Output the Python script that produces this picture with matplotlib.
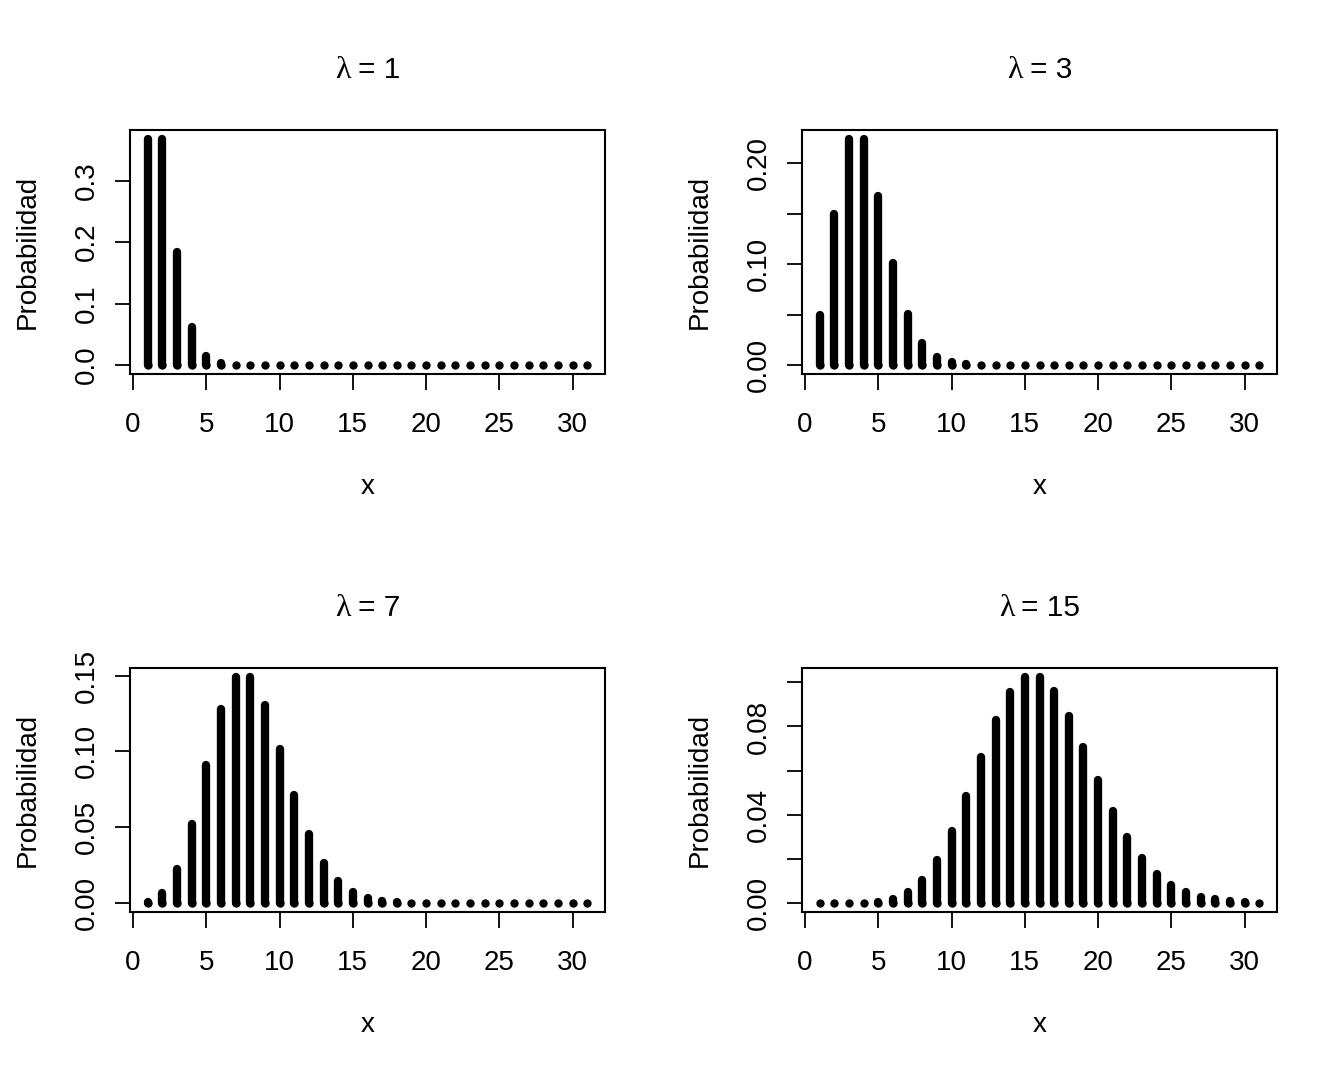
import matplotlib
matplotlib.use("Agg")
import matplotlib.pyplot as plt

plt.rcParams['font.family'] = ['Liberation Sans', 'DejaVu Sans']

# valores x (1..31) y probabilidades
x = list(range(1, 32))

p_l1 = [0.3679, 0.3679, 0.1839, 0.0613, 0.0153, 0.0031, 0.0005, 0.0001, 0.0, 0.0,
        0.0, 0.0, 0.0, 0.0, 0.0, 0.0, 0.0, 0.0, 0.0, 0.0,
        0.0, 0.0, 0.0, 0.0, 0.0, 0.0, 0.0, 0.0, 0.0, 0.0, 0.0]
p_l3 = [0.0498, 0.1494, 0.2240, 0.2240, 0.1680, 0.1008, 0.0504, 0.0216, 0.0081, 0.0027,
        0.0008, 0.0002, 0.0001, 0.0, 0.0, 0.0, 0.0, 0.0, 0.0, 0.0,
        0.0, 0.0, 0.0, 0.0, 0.0, 0.0, 0.0, 0.0, 0.0, 0.0, 0.0]
p_l7 = [0.0009, 0.0064, 0.0223, 0.0521, 0.0912, 0.1277, 0.1490, 0.1490, 0.1304, 0.1014,
        0.0710, 0.0452, 0.0264, 0.0142, 0.0071, 0.0033, 0.0014, 0.0006, 0.0002, 0.0001,
        0.0, 0.0, 0.0, 0.0, 0.0, 0.0, 0.0, 0.0, 0.0, 0.0, 0.0]
p_l15 = [0.0, 0.0, 0.0, 0.0002, 0.0006, 0.0019, 0.0048, 0.0104, 0.0194, 0.0324,
         0.0486, 0.0663, 0.0829, 0.0956, 0.1024, 0.1024, 0.0960, 0.0847, 0.0706, 0.0558,
         0.0418, 0.0299, 0.0204, 0.0133, 0.0083, 0.0050, 0.0029, 0.0016, 0.0009, 0.0004, 0.0002]

lambdas = ["1", "3", "7", "15"]
series = [p_l1, p_l3, p_l7, p_l15]

yticks = [[0.0, 0.1, 0.2, 0.3],
          [0.0, 0.05, 0.10, 0.15, 0.20],
          [0.0, 0.05, 0.10, 0.15],
          [0.0, 0.02, 0.04, 0.06, 0.08, 0.10]]
ylabels = [["0.0", "0.1", "0.2", "0.3"],
           ["0.00", "", "0.10", "", "0.20"],
           ["0.00", "0.05", "0.10", "0.15"],
           ["0.00", "", "0.04", "", "0.08", ""]]
xticks = [0, 5, 10, 15, 20, 25, 30]

W, H = 1344, 1075
fig = plt.figure(figsize=(W / 100, H / 100), dpi=100)
renderer = fig.canvas.get_renderer()

# cajas en pixeles (izq, arriba, der, abajo)
boxes = [(130, 130, 605, 374), (802, 130, 1277, 374),
         (130, 668, 605, 912), (802, 668, 1277, 912)]

lw = 6.0
fs = 20
for box, p, lam, yt, yl in zip(boxes, series, lambdas, yticks, ylabels):
    l, tp, r, b = box
    ax = fig.add_axes([l / W, 1 - b / H, (r - l) / W, (b - tp) / H])
    ax.vlines(x, 0, p, colors="black", linewidth=lw, capstyle="round")
    ax.scatter(x, [0] * len(x), s=lw ** 2, color="black", linewidths=0, zorder=3)
    ax.set_xlim(-0.2, 32.2)
    pmax = max(p)
    ax.set_ylim(-0.04 * pmax, 1.04 * pmax)
    ax.set_xticks(xticks)
    ax.set_xticklabels([str(v) for v in xticks], fontsize=fs)
    ax.set_yticks(yt)
    ax.set_yticklabels(yl, fontsize=fs, rotation=90, va="center")
    ax.tick_params(axis="x", length=11.5, width=1.3, pad=15.5)
    ax.tick_params(axis="y", length=11, width=1.3, pad=10.5)
    for s in ax.spines.values():
        s.set_linewidth(1.5)
    ax.set_xlabel("x", fontsize=fs, labelpad=26)
    ax.set_ylabel("Probabilidad", fontsize=fs, labelpad=24)

    # titulo: lambda en serif, resto en sans, centrado sobre la caja
    ty = 1 - (tp - 52) / H
    t1 = fig.text(0, ty, "λ", fontsize=23, family=["Liberation Serif", "DejaVu Serif"],
                  ha="left", va="baseline")
    t2 = fig.text(0, ty, "= " + lam, fontsize=21.5, ha="left", va="baseline")
    w1 = t1.get_window_extent(renderer).width
    w2 = t2.get_window_extent(renderer).width
    gap = 7
    x0 = (l + r) / 2 - (w1 + gap + w2) / 2
    t1.set_x(x0 / W)
    t2.set_x((x0 + w1 + gap) / W)

fig.savefig("out.png", dpi=100)
